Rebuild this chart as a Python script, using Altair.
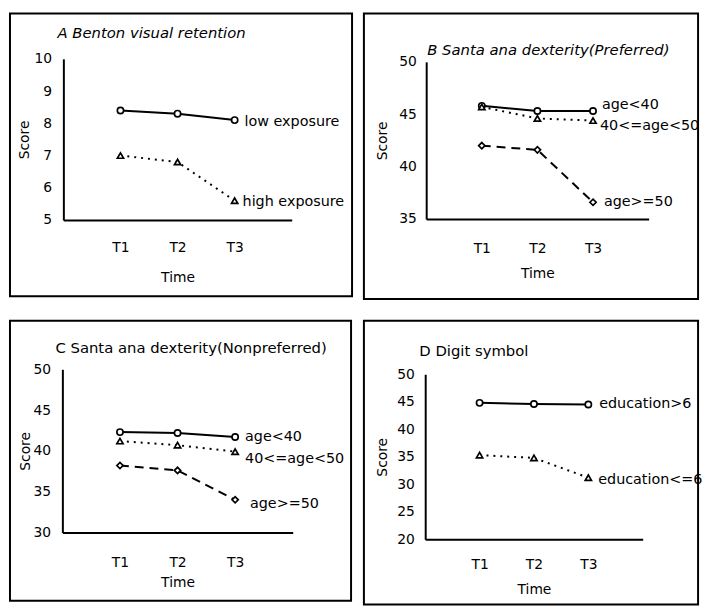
import altair as alt
import pandas as pd

FONT = "DejaVu Sans"

times = [1, 2, 3]

# Panel A
a_title = "A Benton visual retention"
a_series = ["low exposure", "high exposure"]
a_low = [8.4, 8.3, 8.1]
a_high = [7.0, 6.8, 5.6]
a_ticks = [5, 6, 7, 8, 9, 10]

# Panel B
b_title = "B Santa ana dexterity(Preferred)"
b_series = ["age<40", "40<=age<50", "age>=50"]
b_lt40 = [45.8, 45.3, 45.3]
b_40_50 = [45.7, 44.6, 44.4]
b_ge50 = [42.0, 41.6, 36.6]
b_ticks = [35, 40, 45, 50]

# Panel C
c_title = "C Santa ana dexterity(Nonpreferred)"
c_series = ["age<40", "40<=age<50", "age>=50"]
c_lt40 = [42.3, 42.2, 41.7]
c_40_50 = [41.2, 40.7, 39.9]
c_ge50 = [38.2, 37.6, 34.0]
c_ticks = [30, 35, 40, 45, 50]

# Panel D
d_title = "D Digit symbol"
d_series = ["education>6", "education<=6"]
d_hi = [44.8, 44.6, 44.5]
d_lo = [35.3, 34.8, 31.2]
d_ticks = [20, 25, 30, 35, 40, 45, 50]

SOLID = None
DOTTED = [2, 5]
DASHED = [9, 6]


def panel(title, italic, names, values, dashes, shapes, ticks, box_w, box_h,
          x_left, x_right, y_bottom, y_top, title_xy, offsets,
          score_x, time_y, xlab_pad, ylab_pad):
    xs = alt.Scale(domain=[0, 4], range=[x_left, x_right], nice=False, zero=False)
    ys = alt.Scale(domain=[ticks[0], ticks[-1]], range=[y_bottom, y_top],
                   nice=False, zero=False)
    x_axis = alt.Axis(values=times, labelExpr="'T' + datum.value",
                      offset=y_bottom - box_h, ticks=False, grid=False,
                      domainColor="black", domainWidth=2,
                      labelFont=FONT, labelFontSize=14, labelColor="black",
                      labelPadding=xlab_pad, labelFlush=False,
                      title="Time", titleFont=FONT, titleFontSize=14,
                      titleFontWeight="normal", titleColor="black",
                      titleY=time_y, titleBaseline="middle")
    y_axis = alt.Axis(values=ticks, format="d", offset=-x_left, ticks=False,
                      grid=False, domainColor="black", domainWidth=2,
                      labelFont=FONT, labelFontSize=14, labelColor="black",
                      labelPadding=ylab_pad, labelFlush=False,
                      title="Score", titleFont=FONT, titleFontSize=14,
                      titleFontWeight="normal", titleColor="black",
                      titleX=score_x, titleBaseline="middle")

    layers = []
    first = True
    for name, vals, dash, shape, (dx, dy) in zip(names, values, dashes, shapes, offsets):
        df = pd.DataFrame({"time": times, "score": vals, "series": [name] * len(times)})
        if first:
            x = alt.X("time:Q", scale=xs, axis=x_axis)
            y = alt.Y("score:Q", scale=ys, axis=y_axis)
            first = False
        else:
            x = alt.X("time:Q", scale=xs)
            y = alt.Y("score:Q", scale=ys)
        line_kw = dict(color="black", strokeWidth=2)
        if dash is not None:
            line_kw["strokeDash"] = dash
        layers.append(alt.Chart(df).mark_line(**line_kw).encode(x=x, y=y))
        layers.append(alt.Chart(df).mark_point(
            shape=shape, filled=True, fill="white", stroke="black",
            strokeWidth=1.7, size=40, opacity=1).encode(
            x=alt.X("time:Q", scale=xs), y=alt.Y("score:Q", scale=ys)))
        ldf = df.tail(1)
        layers.append(alt.Chart(ldf).mark_text(
            align="left", baseline="middle", dx=dx, dy=dy, font=FONT,
            fontSize=14.5, color="black").encode(
            x=alt.X("time:Q", scale=xs), y=alt.Y("score:Q", scale=ys),
            text="series:N"))

    tdf = pd.DataFrame({"t": [title]})
    layers.append(alt.Chart(tdf).mark_text(
        align="left", baseline="middle", font=FONT, fontSize=15,
        fontStyle="italic" if italic else "normal", color="black").encode(
        x=alt.value(title_xy[0]), y=alt.value(title_xy[1]), text="t:N"))

    return alt.layer(*layers).properties(width=box_w, height=box_h)


pA = panel(a_title, True, a_series, [a_low, a_high], [SOLID, DOTTED],
           ["circle", "triangle-up"], a_ticks, 346, 286,
           54, 285, 209, 46, (48, 20), [(10, 2), (8, 1)], -39, 58, 21, 12)
pB = panel(b_title, True, b_series, [b_lt40, b_40_50, b_ge50],
           [SOLID, DOTTED, DASHED], ["circle", "triangle-up", "diamond"],
           b_ticks, 338, 289, 63, 288, 208, 49, (64, 37),
           [(9, -6), (7, 6), (11, 0)], -44, 55, 23, 10)
pC = panel(c_title, False, c_series, [c_lt40, c_40_50, c_ge50],
           [SOLID, DOTTED, DASHED], ["circle", "triangle-up", "diamond"],
           c_ticks, 345, 283, 53, 286, 214, 49, (46, 28),
           [(10, 0), (10, 7), (15, 4)], -37, 51, 23, 12)
pD = panel(d_title, False, d_series, [d_hi, d_lo], [SOLID, DOTTED],
           ["circle", "triangle-up"], d_ticks, 338, 287,
           62, 282, 221, 54, (56, 31), [(11, 0), (10, 2)], -43, 51, 18, 11)

chart = alt.vconcat(
    alt.hconcat(pA, pB, spacing=10),
    alt.hconcat(pC, pD, spacing=11),
    spacing=20,
).properties(
    padding={"left": 1, "top": 1, "right": 0, "bottom": 0},
    background="white",
).configure_view(stroke="black", strokeWidth=2)

chart.save("out.html", embed_options={"renderer": "svg", "actions": False})
